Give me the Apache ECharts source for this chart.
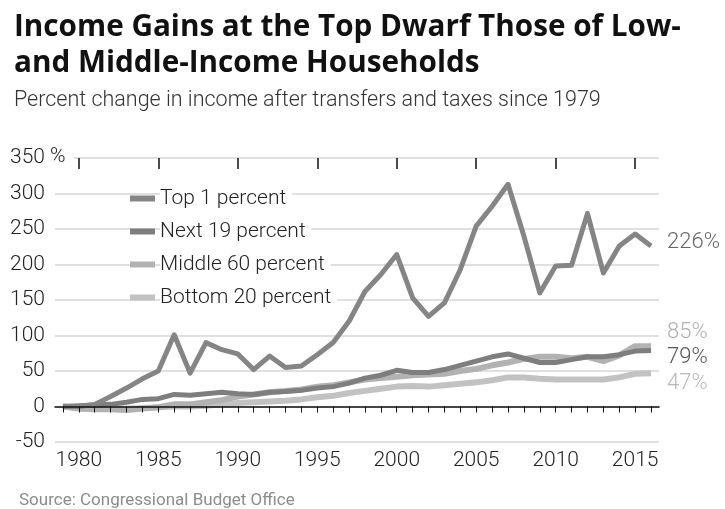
<!DOCTYPE html>
<html>
<head>
<meta charset="utf-8">
<script src="https://cdn.jsdelivr.net/npm/echarts@6/dist/echarts.min.js"></script>
<style>
  html, body { margin: 0; padding: 0; background: #fff; }
  #chart { width: 725px; height: 509px; }
</style>
</head>
<body>
<div id="chart"></div>
<script>
var years = ['1979', '1980', '1981', '1982', '1983', '1984', '1985', '1986', '1987', '1988',
  '1989', '1990', '1991', '1992', '1993', '1994', '1995', '1996', '1997', '1998',
  '1999', '2000', '2001', '2002', '2003', '2004', '2005', '2006', '2007', '2008',
  '2009', '2010', '2011', '2012', '2013', '2014', '2015', '2016'];

var top1 = [0, 0, 3, 14, 26, 39, 50, 101, 47, 90, 80, 74, 52, 71, 55, 57, 73, 90, 120,
  162, 186, 214, 153, 127, 146, 193, 254, 282, 313, 240, 160, 198, 199, 272, 188, 226, 243, 226];
var next19 = [0, 1, 2, 3, 6, 10, 11, 17, 16, 18, 20, 18, 17, 20, 21, 23, 26, 28, 33,
  40, 44, 51, 48, 48, 52, 58, 64, 70, 74, 68, 62, 62, 66, 70, 70, 73, 78, 79];
var middle60 = [0, -3, -4, -4, -5, -3, -1, 3, 3, 6, 9, 14, 17, 20, 22, 24, 28, 30, 34,
  38, 40, 42, 44, 45, 46, 50, 53, 58, 62, 67, 70, 70, 68, 70, 64, 72, 85, 85];
var bottom20 = [0, -1, -2, -2, -3, -2, -1, 0, 0, 1, 3, 5, 6, 7, 8, 10, 13, 15, 19,
  22, 25, 28, 29, 28, 30, 32, 34, 37, 41, 41, 39, 38, 38, 38, 38, 41, 46, 47];

var seriesNames = ['Top 1 percent', 'Next 19 percent', 'Middle 60 percent', 'Bottom 20 percent'];

var FONT = 'Roboto, "Open Sans", sans-serif';

function initChart() {
  var myChart = echarts.init(document.getElementById('chart'));

  function lineSeries(name, data, color, width, labelColor, dy) {
    return {
      name: name,
      type: 'line',
      xAxisIndex: 0,
      data: data,
      symbol: 'none',
      color: color,
      lineStyle: { color: color, width: width, join: 'round' },
      endLabel: {
        show: true,
        distance: 16,
        offset: [0, dy],
        formatter: function (p) { return p.value + '%'; },
        color: labelColor,
        fontFamily: FONT,
        fontWeight: 300,
        fontSize: 22
      }
    };
  }

  var option = {
    animation: false,
    title: [
      {
        text: 'Income Gains at the Top Dwarf Those of Low-\nand Middle-Income Households',
        left: 9,
        top: 5,
        textStyle: { fontFamily: '"Open Sans", Roboto, sans-serif', fontWeight: 'bold', fontSize: 29.7, lineHeight: 36, color: '#111' }
      },
      {
        text: 'Percent change in income after transfers and taxes since 1979',
        left: 9,
        top: 85,
        textStyle: { fontFamily: FONT, fontWeight: 300, fontSize: 21.5, color: '#333' }
      },
      {
        text: 'Source: Congressional Budget Office',
        left: 14,
        top: 487,
        textStyle: { fontFamily: FONT, fontWeight: 'normal', fontSize: 17, color: '#8c8c8c' }
      }
    ],
    legend: {
      data: seriesNames,
      orient: 'vertical',
      left: 130,
      top: 186,
      padding: 0,
      itemGap: 8,
      itemWidth: 25,
      itemHeight: 6,
      icon: 'rect',
      textStyle: {
        fontFamily: FONT,
        fontWeight: 300,
        fontSize: 21,
        lineHeight: 23,
        color: '#222',
        backgroundColor: '#fff',
        padding: [1, 6, 1, 0]
      }
    },
    grid: { left: 55, right: 66, top: 158, bottom: 67 },
    xAxis: [
      {
        type: 'category',
        data: years,
        boundaryGap: true,
        axisLine: { show: false, onZero: false },
        axisTick: { show: false },
        axisLabel: {
          interval: function (i, v) { return Number(v) % 5 === 0; },
          margin: 8,
          fontFamily: FONT,
          fontWeight: 300,
          fontSize: 21,
          color: '#222'
        },
        splitLine: { show: false }
      },
      {
        type: 'category',
        data: years,
        boundaryGap: true,
        z: 10,
        axisLine: { show: true, onZero: true, lineStyle: { color: '#111', width: 1.5 } },
        axisTick: { show: true, inside: true, alignWithLabel: true, interval: 0, length: 6, lineStyle: { color: '#111', width: 1 } },
        axisLabel: { show: false },
        splitLine: { show: false }
      },
      {
        type: 'category',
        data: years,
        boundaryGap: true,
        z: 10,
        axisLine: { show: false, onZero: true },
        axisTick: {
          show: true, inside: true, alignWithLabel: true, length: 11,
          interval: function (i, v) { return Number(v) % 5 === 0; },
          lineStyle: { color: '#111', width: 1.5 }
        },
        axisLabel: { show: false },
        splitLine: { show: false }
      }
    ],
    yAxis: {
      type: 'value',
      min: -50,
      max: 350,
      interval: 50,
      axisLine: { show: false },
      axisTick: { show: false },
      axisLabel: {
        margin: 10,
        fontFamily: FONT,
        fontWeight: 300,
        fontSize: 21,
        color: '#222'
      },
      splitLine: { lineStyle: { color: '#d6d6d6', width: 1.5 } }
    },
    graphic: [
      {
        type: 'rect',
        left: 48,
        top: 150,
        z: 100,
        shape: { width: 26, height: 16 },
        style: { fill: '#fff' }
      },
      {
        type: 'text',
        left: 50,
        top: 146,
        z: 101,
        style: { text: '%', font: '300 21px ' + FONT, fill: '#222' }
      }
    ],
    series: [
      lineSeries('Bottom 20 percent', bottom20, '#c2c2c2', 6, '#b8b8b8', 10),
      lineSeries('Middle 60 percent', middle60, '#b2b2b2', 6, '#b0b0b0', -14),
      lineSeries('Next 19 percent', next19, '#7e7e7e', 5, '#555', 7),
      lineSeries('Top 1 percent', top1, '#858585', 5, '#666', -4)
    ]
  };
  option && myChart.setOption(option);
}

document.addEventListener('DOMContentLoaded', function () {
  initChart();
});
</script>
</body>
</html>
